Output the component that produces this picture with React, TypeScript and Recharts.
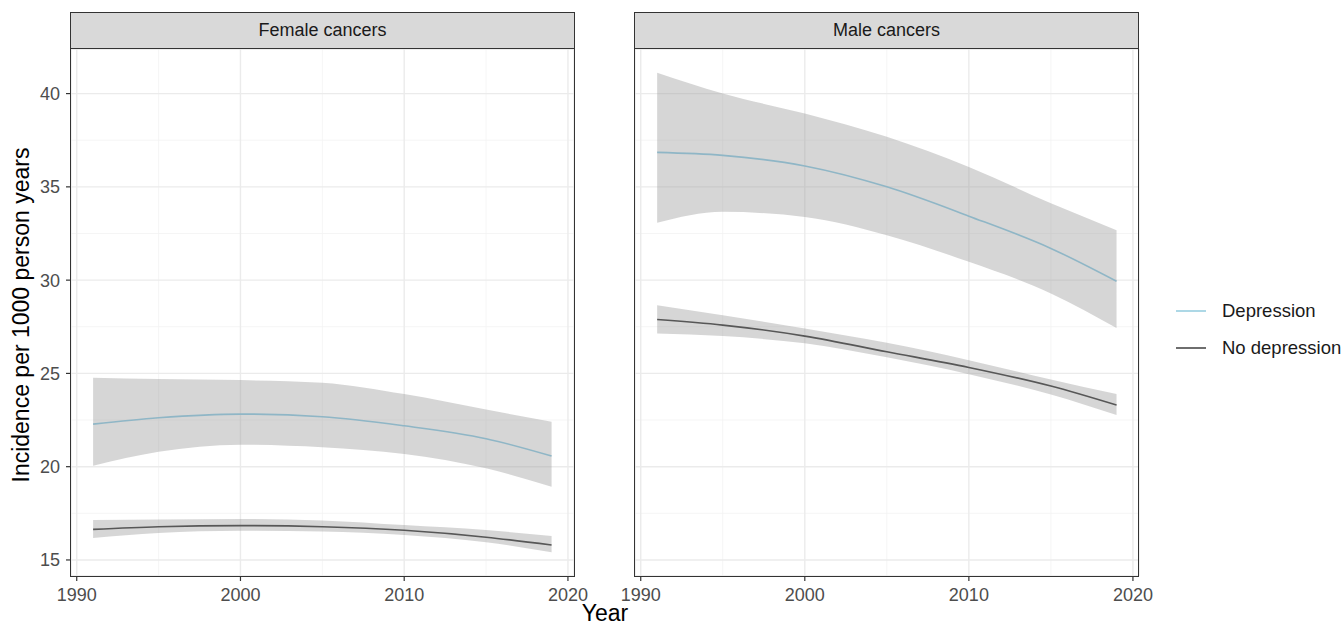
import React from "react";
import { ComposedChart, Line, Area, XAxis, YAxis, CartesianGrid } from "recharts";

// ---- data ----
const years = [1991, 1995, 2000, 2005, 2010, 2015, 2019];

const femaleDep = [22.28, 22.62, 22.82, 22.68, 22.19, 21.5, 20.57];
const femaleDepLo = [20.05, 20.8, 21.18, 21.04, 20.68, 19.91, 18.93];
const femaleDepHi = [24.77, 24.7, 24.64, 24.5, 23.89, 23.06, 22.41];
const femaleNo = [16.64, 16.78, 16.84, 16.78, 16.59, 16.22, 15.8];
const femaleNoLo = [16.18, 16.45, 16.57, 16.52, 16.34, 15.95, 15.41];
const femaleNoHi = [17.14, 17.17, 17.2, 17.12, 16.87, 16.6, 16.29];

const maleDep = [36.85, 36.69, 36.12, 35.0, 33.43, 31.7, 29.94];
const maleDepLo = [33.07, 33.66, 33.39, 32.41, 30.98, 29.29, 27.44];
const maleDepHi = [41.12, 40.0, 38.93, 37.68, 36.07, 34.12, 32.68];
const maleNo = [27.89, 27.59, 27.0, 26.16, 25.32, 24.32, 23.3];
const maleNoLo = [27.14, 27.0, 26.61, 25.86, 24.96, 23.87, 22.77];
const maleNoHi = [28.66, 28.12, 27.41, 26.64, 25.71, 24.68, 23.89];

const xTicks = [1990, 2000, 2010, 2020];
const xMinor = [1995, 2005, 2015];
const yTicks = [15, 20, 25, 30, 35, 40];
const yMinor = [17.5, 22.5, 27.5, 32.5, 37.5];
const xDomain = [1989.65, 2020.37];
const yDomain = [14.14, 42.39];

const panels = ["Female cancers", "Male cancers"];
const seriesNames = ["Depression", "No depression"];
const seriesColors = ["#8fb6c6", "#575757"];
const legendColors = ["#add8e6", "#6e6e6e"];

function buildRows(dep: number[], depLo: number[], depHi: number[], no: number[], noLo: number[], noHi: number[]) {
  return years.map((y, i) => ({
    year: y,
    dep: dep[i],
    depRange: [depLo[i], depHi[i]],
    no: no[i],
    noRange: [noLo[i], noHi[i]],
  }));
}

const femaleRows = buildRows(femaleDep, femaleDepLo, femaleDepHi, femaleNo, femaleNoLo, femaleNoHi);
const maleRows = buildRows(maleDep, maleDepLo, maleDepHi, maleNo, maleNoLo, maleNoHi);

const FONT = "'Liberation Sans', Arial, Helvetica, sans-serif";
const tickStyle = { fill: "#4d4d4d", fontSize: 18, fontFamily: FONT };

function Panel({ rows, showY }: { rows: any[]; showY: boolean }) {
  return (
    <ComposedChart
      width={showY ? 620 : 600}
      height={627}
      data={rows}
      margin={{ top: 49, right: showY ? 46 : 56, bottom: 0, left: showY ? 0 : 40 }}
    >
      <CartesianGrid stroke="#f3f3f3" strokeWidth={0.8} verticalValues={xMinor} horizontalValues={yMinor} />
      <CartesianGrid stroke="#ebebeb" strokeWidth={1.4} />
      <XAxis
        type="number"
        dataKey="year"
        domain={xDomain}
        ticks={xTicks}
        allowDataOverflow
        height={51}
        tickSize={5}
        tickMargin={7}
        axisLine={false}
        tickLine={{ stroke: "#333333", strokeWidth: 1.2 }}
        tick={tickStyle}
      />
      <YAxis
        type="number"
        domain={yDomain}
        ticks={yTicks}
        allowDataOverflow
        hide={!showY}
        width={71}
        tickSize={5}
        tickMargin={6}
        axisLine={false}
        tickLine={{ stroke: "#333333", strokeWidth: 1.2 }}
        tick={tickStyle}
      />
      <Area type="monotone" dataKey="depRange" stroke="none" fill="#999999" fillOpacity={0.4} isAnimationActive={false} activeDot={false} />
      <Line type="monotone" dataKey="dep" stroke={seriesColors[0]} strokeWidth={1.6} dot={false} isAnimationActive={false} activeDot={false} />
      <Area type="monotone" dataKey="noRange" stroke="none" fill="#999999" fillOpacity={0.4} isAnimationActive={false} activeDot={false} />
      <Line type="monotone" dataKey="no" stroke={seriesColors[1]} strokeWidth={1.6} dot={false} isAnimationActive={false} activeDot={false} />
    </ComposedChart>
  );
}

function Strip({ left, label }: { left: number; label: string }) {
  return (
    <div
      style={{
        position: "absolute",
        left,
        top: 12,
        width: 505,
        height: 37,
        boxSizing: "border-box",
        background: "#d9d9d9",
        border: "1px solid #333333",
        fontFamily: FONT,
        fontSize: 18,
        color: "#1a1a1a",
        textAlign: "center",
        lineHeight: "35px",
      }}
    >
      {label}
    </div>
  );
}

function Border({ left }: { left: number }) {
  return (
    <div
      style={{
        position: "absolute",
        left,
        top: 48,
        width: 505,
        height: 529,
        boxSizing: "border-box",
        border: "1.3px solid #333333",
        pointerEvents: "none",
      }}
    />
  );
}

export default function App() {
  return (
    <div style={{ position: "absolute", left: 0, top: 0, width: 1343, height: 627, background: "#ffffff", overflow: "hidden", fontFamily: FONT }}>
      <div style={{ position: "absolute", left: 0, top: 0 }}>
        <Panel rows={femaleRows} showY={true} />
      </div>
      <div style={{ position: "absolute", left: 595, top: 0 }}>
        <Panel rows={maleRows} showY={false} />
      </div>
      <Border left={70} />
      <Border left={634} />
      <Strip left={70} label={panels[0]} />
      <Strip left={634} label={panels[1]} />
      <svg style={{ position: "absolute", left: 0, top: 0 }} width={1343} height={627}>
        <text transform="translate(29,315) rotate(-90)" textAnchor="middle" fontSize={23} fontFamily={FONT} fill="#000000">
          Incidence per 1000 person years
        </text>
        <text x={605} y={621} textAnchor="middle" fontSize={23} fontFamily={FONT} fill="#000000">
          Year
        </text>
      </svg>
      {seriesNames.map((name, i) => (
        <div
          key={name}
          style={{
            position: "absolute",
            left: 1176,
            top: 311 + i * 37 - 13,
            height: 26,
            display: "flex",
            alignItems: "center",
            whiteSpace: "nowrap",
          }}
        >
          <div style={{ width: 30, height: 2, background: legendColors[i] }} />
          <span style={{ marginLeft: 16, fontSize: 18.5, color: "#1a1a1a", fontFamily: FONT }}>{name}</span>
        </div>
      ))}
    </div>
  );
}
